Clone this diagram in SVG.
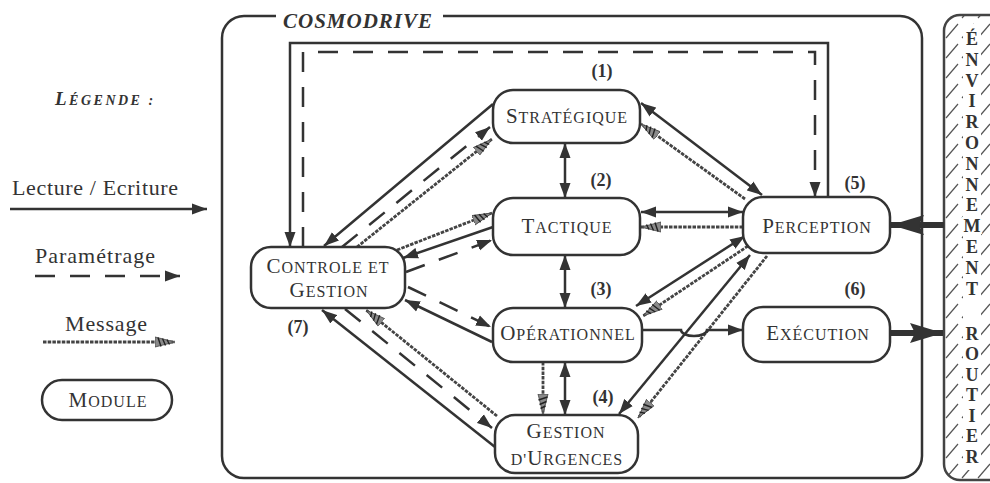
<svg xmlns="http://www.w3.org/2000/svg" width="990" height="483" viewBox="0 0 990 483">
<defs>
<style>
.box{fill:#fff;stroke:#333;stroke-width:2.5}
.lbl{font-family:"Liberation Serif","Times New Roman",serif;fill:#333;text-anchor:middle;letter-spacing:1px}
.big{font-size:21px}
.sm{font-size:16px}
.num{font-family:"Liberation Serif","Times New Roman",serif;font-weight:bold;font-size:18px;fill:#333;text-anchor:middle}
.txt{font-family:"Liberation Serif","Times New Roman",serif;fill:#333}
.rw{fill:none;stroke:#333;stroke-width:2.5}
.par{fill:none;stroke:#333;stroke-width:2.5;stroke-dasharray:20 15}
.msg{fill:none;stroke:#444;stroke-width:2.8;stroke-dasharray:3.5 1.2}
.env{fill:none;stroke:#333;stroke-width:6}
.envt{font-family:"Liberation Serif","Times New Roman",serif;font-weight:bold;font-size:18px;fill:#333;text-anchor:middle;stroke:#fff;stroke-width:4px;paint-order:stroke}
</style>
<marker id="ah" markerUnits="userSpaceOnUse" markerWidth="16" markerHeight="12" viewBox="0 0 16 12" refX="15" refY="6" orient="auto-start-reverse"><path d="M0,0.5 L15,6 L0,11.5 Z" fill="#333"/></marker>
<marker id="hh" markerUnits="userSpaceOnUse" markerWidth="20" markerHeight="12" viewBox="0 0 20 12" refX="20" refY="6" orient="auto"><path d="M0,1 L20,6 L0,11 Z" fill="#8a8a8a" stroke="#444" stroke-width="0.8"/><path d="M3,1.5 L6,10.5 M7.5,2.5 L10.5,9.5 M12,3.5 L14.5,8.5" stroke="#222" stroke-width="1.4"/></marker>
<marker id="bh" markerUnits="userSpaceOnUse" markerWidth="34" markerHeight="22" viewBox="0 0 34 22" refX="33" refY="11" orient="auto"><path d="M0,1 L33,11 L0,21 L5,11 Z" fill="#333"/></marker>
<pattern id="hatch" patternUnits="userSpaceOnUse" width="16" height="20"><path d="M2,18 L14,4" stroke="#555" stroke-width="1.2"/></pattern>
</defs>
<rect width="990" height="483" fill="#fff"/>

<g id="legende">
<text class="txt" x="55" y="105" font-style="italic" font-weight="bold" letter-spacing="2.5"><tspan font-size="19">L</tspan><tspan font-size="14">ÉGENDE :</tspan></text>
<text class="txt" x="12" y="195" font-size="22" textLength="166">Lecture / Ecriture</text>
<path class="rw" d="M10,209 L207,209" marker-end="url(#ah)"/>
<text class="txt" x="35" y="263" font-size="22" textLength="120">Paramétrage</text>
<path class="par" d="M35,276 L180,276" stroke-dasharray="22 21" marker-end="url(#ah)"/>
<text class="txt" x="65" y="331" font-size="22" textLength="82">Message</text>
<path class="msg" d="M43,342 L175,342" marker-end="url(#hh)"/>
<g id="legende-module">
<rect class="box" x="42" y="380" width="130" height="40" rx="20"/>
<text class="lbl" x="108" y="407"><tspan class="big">M</tspan><tspan class="sm">ODULE</tspan></text>
</g>
</g>

<g id="cosmodrive">
<path class="rw" d="M276,16 H244 A22,22 0 0 0 222,38 V456 A22,22 0 0 0 244,478 H900 A22,22 0 0 0 922,456 V38 A22,22 0 0 0 900,16 H443"/>
<text class="txt" x="283" y="28" font-size="21" font-style="italic" font-weight="bold" textLength="149">COSMODRIVE</text>
</g>

<g id="environnement">
<rect x="944" y="15" width="60" height="465" rx="16" fill="url(#hatch)" stroke="#444" stroke-width="2.5"/>
<rect x="963" y="24" width="18" height="446" fill="#fff"/>
<text class="envt" x="972" y="45">É</text>
<text class="envt" x="972" y="66">N</text>
<text class="envt" x="972" y="87">V</text>
<text class="envt" x="972" y="107">I</text>
<text class="envt" x="972" y="128">R</text>
<text class="envt" x="972" y="149">O</text>
<text class="envt" x="972" y="170">N</text>
<text class="envt" x="972" y="191">N</text>
<text class="envt" x="972" y="211">E</text>
<text class="envt" x="972" y="232">M</text>
<text class="envt" x="972" y="253">E</text>
<text class="envt" x="972" y="274">N</text>
<text class="envt" x="972" y="295">T</text>
<text class="envt" x="972" y="340">R</text>
<text class="envt" x="972" y="360">O</text>
<text class="envt" x="972" y="381">U</text>
<text class="envt" x="972" y="401">T</text>
<text class="envt" x="972" y="422">I</text>
<text class="envt" x="972" y="442">E</text>
<text class="envt" x="972" y="463">R</text>
</g>

<g id="connectors">
<path class="rw" d="M828,197 V43 H290 V247" marker-end="url(#ah)"/>
<path class="par" d="M303,247 V52 H815 V197" marker-end="url(#ah)"/>
<path class="rw" d="M565,143 V198" marker-start="url(#ah)" marker-end="url(#ah)"/>
<path class="rw" d="M565,255 V308" marker-start="url(#ah)" marker-end="url(#ah)"/>
<path class="rw" d="M565,362 V415" marker-start="url(#ah)" marker-end="url(#ah)"/>
<path class="msg" d="M543,362 V414" marker-end="url(#hh)"/>
<path class="rw" d="M641,103 L762,195" marker-start="url(#ah)" marker-end="url(#ah)"/>
<path class="msg" d="M745,199 L641,124" marker-end="url(#hh)"/>
<path class="rw" d="M641,212 L743,212" marker-start="url(#ah)" marker-end="url(#ah)"/>
<path class="msg" d="M743,227 L641,227" marker-end="url(#hh)"/>
<path class="rw" d="M636,306 L745,236" marker-start="url(#ah)" marker-end="url(#ah)"/>
<path class="msg" d="M748,246 L643,316" marker-end="url(#hh)"/>
<path class="rw" d="M750,255 L619,414" marker-start="url(#ah)" marker-end="url(#ah)"/>
<path class="msg" d="M767,256 L638,418" marker-end="url(#hh)"/>
<path class="rw" d="M642,330 H681 A13,6 0 0 0 707,330 H743" marker-end="url(#ah)"/>
<path class="env" d="M890,333 L943,333" marker-end="url(#bh)"/>
<path class="env" d="M944,225 L891,225" marker-end="url(#bh)"/>
<path class="rw" d="M493,104 L324,246" marker-end="url(#ah)"/>
<path class="par" d="M342,247 L490,127" marker-end="url(#ah)"/>
<path class="msg" d="M357,247 L492,139" marker-end="url(#hh)"/>
<path class="rw" d="M493,227 L403,258" marker-end="url(#ah)"/>
<path class="par" d="M406,272 L492,240" marker-end="url(#ah)"/>
<path class="msg" d="M397,250 L492,213" marker-end="url(#hh)"/>
<path class="rw" d="M492,342 L405,300" marker-end="url(#ah)"/>
<path class="par" d="M408,287 L491,327" marker-end="url(#ah)"/>
<path class="rw" d="M495,447 L322,310" marker-end="url(#ah)"/>
<path class="par" d="M345,309 L492,428" marker-end="url(#ah)"/>
<path class="msg" d="M497,416 L366,310" marker-end="url(#hh)"/>
</g>

<g id="strategique">
<rect class="box" x="493" y="90" width="147" height="53" rx="20"/>
<text class="lbl" x="567" y="123"><tspan class="big">S</tspan><tspan class="sm">TRATÉGIQUE</tspan></text>
<text class="num" x="602" y="77">(1)</text>
</g>
<g id="tactique">
<rect class="box" x="493" y="198" width="147" height="57" rx="20"/>
<text class="lbl" x="567" y="233"><tspan class="big">T</tspan><tspan class="sm">ACTIQUE</tspan></text>
<text class="num" x="601" y="186">(2)</text>
</g>
<g id="operationnel">
<rect class="box" x="493" y="308" width="149" height="54" rx="20"/>
<text class="lbl" x="568" y="340"><tspan class="big">O</tspan><tspan class="sm">PÉRATIONNEL</tspan></text>
<text class="num" x="601" y="295">(3)</text>
</g>
<g id="gestion-urgences">
<rect class="box" x="495" y="415" width="143" height="58" rx="20"/>
<text class="lbl" x="566" y="438"><tspan class="big">G</tspan><tspan class="sm">ESTION</tspan></text>
<text class="lbl" x="567" y="465"><tspan class="sm">D'</tspan><tspan class="big">U</tspan><tspan class="sm">RGENCES</tspan></text>
<text class="num" x="603" y="403">(4)</text>
</g>
<g id="perception">
<rect class="box" x="743" y="197" width="147" height="56" rx="20"/>
<text class="lbl" x="817" y="233"><tspan class="big">P</tspan><tspan class="sm">ERCEPTION</tspan></text>
<text class="num" x="855" y="189">(5)</text>
</g>
<g id="execution">
<rect class="box" x="743" y="307" width="147" height="55" rx="20"/>
<text class="lbl" x="818" y="340"><tspan class="big">E</tspan><tspan class="sm">XÉCUTION</tspan></text>
<text class="num" x="855" y="295">(6)</text>
</g>
<g id="controle-gestion">
<rect class="box" x="251" y="247" width="154" height="61" rx="20"/>
<text class="lbl" x="328" y="273"><tspan class="big">C</tspan><tspan class="sm">ONTROLE ET</tspan></text>
<text class="lbl" x="329" y="297"><tspan class="big">G</tspan><tspan class="sm">ESTION</tspan></text>
<text class="num" x="298" y="333">(7)</text>
</g>
</svg>
